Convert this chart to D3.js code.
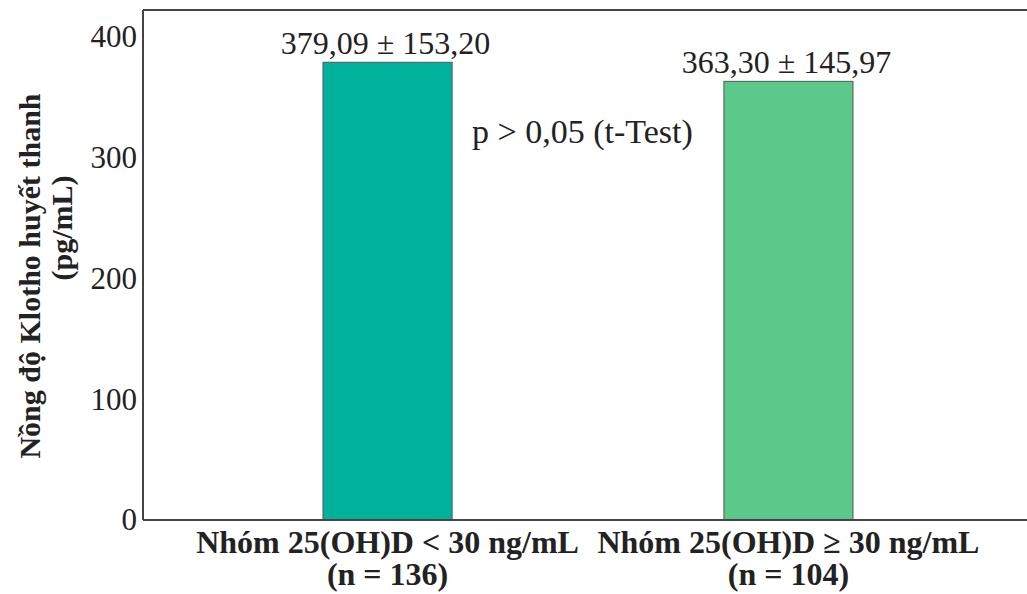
<!DOCTYPE html>
<html>
<head>
<meta charset="utf-8">
<script src="https://cdn.jsdelivr.net/npm/d3@7"></script>
<style>
  body { margin: 0; background: #fff; }
  text { font-family: "Liberation Serif", "Times New Roman", serif; fill: #222; }
</style>
</head>
<body>
<svg id="chart"></svg>
<script>
/* Data */
const groups = ["Nhóm 25(OH)D < 30 ng/mL", "Nhóm 25(OH)D ≥ 30 ng/mL"];
const sampleSizes = [136, 104];
const means = [379.09, 363.30];
const sds = [153.20, 145.97];
const barColors = ["#00b29c", "#5bc98a"];
const yTicks = [0, 100, 200, 300, 400];
const pNote = "p > 0,05 (t-Test)";

/* Dimensions */
const width = 1027;
const height = 594;

const svg = d3.select("#chart")
    .attr("width", width)
    .attr("height", height);

/* Scales */
const x = d3.scaleBand()
    .domain(groups)
    .range([143, 1033])
    .paddingInner(0.678)
    .paddingOuter(0.449);

const y = d3.scaleLinear()
    .domain([0, 422.4])
    .range([520, 10]);

const comma = v => v.toFixed(2).replace(".", ",");

/* Bars */
svg.selectAll(".bar")
    .data(groups)
    .join("rect")
      .attr("class", "bar")
      .attr("x", d => x(d))
      .attr("y", (d, i) => y(means[i]))
      .attr("width", x.bandwidth())
      .attr("height", (d, i) => y(0) - y(means[i]))
      .attr("fill", (d, i) => barColors[i])
      .attr("stroke", "#555")
      .attr("stroke-width", 1);

/* Value labels */
svg.selectAll(".val")
    .data(groups)
    .join("text")
      .attr("class", "val")
      .attr("x", d => x(d) + x.bandwidth() / 2 - 2)
      .attr("y", (d, i) => y(means[i]) - 8)
      .attr("text-anchor", "middle")
      .style("font-size", "32px")
      .text((d, i) => comma(means[i]) + " ± " + comma(sds[i]));

/* Frame: left, top and bottom lines */
const frame = svg.append("g")
    .attr("stroke", "#444")
    .attr("stroke-width", 2);
frame.append("line").attr("x1", 143).attr("x2", 143).attr("y1", y.range()[1]).attr("y2", y(0));
frame.append("line").attr("x1", 143).attr("x2", width).attr("y1", y.range()[1]).attr("y2", y.range()[1]);
frame.append("line").attr("x1", 143).attr("x2", width).attr("y1", y(0)).attr("y2", y(0));

/* Y axis (labels only) */
const yAxis = svg.append("g")
    .attr("transform", "translate(143,0)")
    .call(d3.axisLeft(y).tickValues(yTicks).tickSize(0).tickPadding(6));
yAxis.select(".domain").remove();
yAxis.selectAll("text")
    .style("font-family", "Liberation Serif")
    .style("font-size", "31px")
    .attr("fill", "#222");

/* X category labels */
const xLab = svg.selectAll(".cat")
    .data(groups)
    .join("text")
      .attr("class", "cat")
      .attr("text-anchor", "middle")
      .style("font-size", "32px")
      .style("font-weight", "bold");
xLab.append("tspan")
    .attr("x", d => x(d) + x.bandwidth() / 2)
    .attr("y", 553)
    .text(d => d);
xLab.append("tspan")
    .attr("x", d => x(d) + x.bandwidth() / 2)
    .attr("y", 585)
    .text((d, i) => "(n = " + sampleSizes[i] + ")");

/* Y axis title */
svg.append("text")
    .attr("transform", "translate(40,276) rotate(-90)")
    .attr("text-anchor", "middle")
    .style("font-size", "30px")
    .style("font-weight", "bold")
    .text("Nồng độ Klotho huyết thanh");
svg.append("text")
    .attr("transform", "translate(72,228) rotate(-90)")
    .attr("text-anchor", "middle")
    .style("font-size", "30px")
    .style("font-weight", "bold")
    .text("(pg/mL)");

/* p-value note */
svg.append("text")
    .attr("x", 472)
    .attr("y", 143)
    .style("font-size", "34px")
    .text(pNote);
</script>
</body>
</html>
